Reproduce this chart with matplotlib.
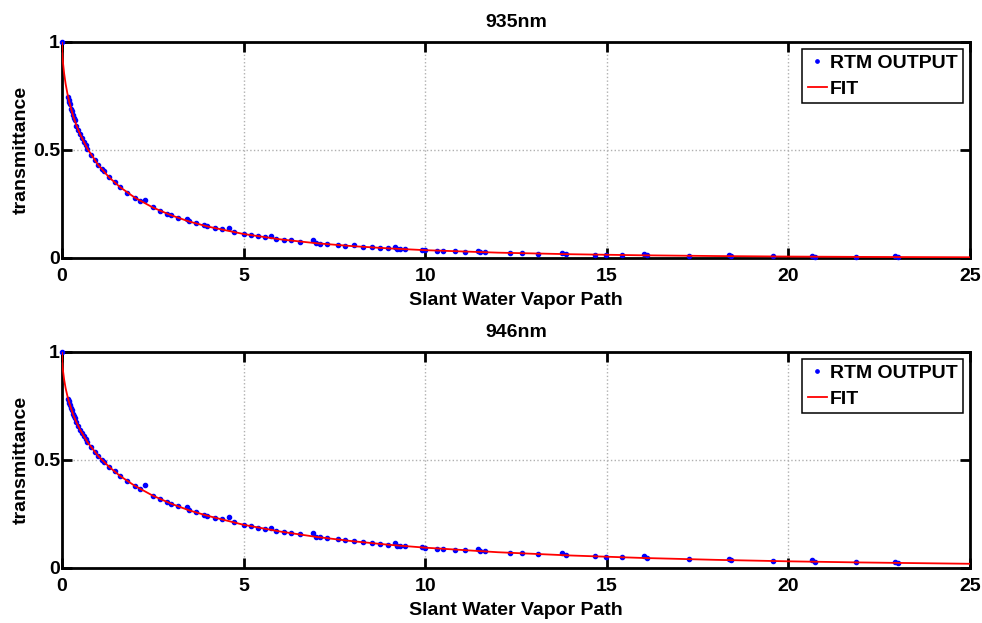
import matplotlib
matplotlib.use('Agg')
import matplotlib.pyplot as plt

# RTM output points (slant water vapor path) - same x for both bands
swvp = [0, 0.17, 0.19, 0.2, 0.22, 0.25, 0.27, 0.3, 0.33, 0.35, 0.4, 0.45, 0.5, 0.55,
        0.6, 0.65, 0.7, 0.8, 0.9, 1.0, 1.1, 1.15, 1.3, 1.45, 1.6, 1.8, 2.0, 2.15, 2.3,
        2.5, 2.7, 2.9, 3.0, 3.2, 3.45, 3.5, 3.7, 3.9, 4.0, 4.2, 4.4, 4.6, 4.75, 5.0,
        5.2, 5.4, 5.6, 5.75, 5.9, 6.1, 6.3, 6.55, 6.9, 7.0, 7.1, 7.3, 7.6, 7.8, 8.05,
        8.3, 8.55, 8.76, 8.97, 9.16, 9.23, 9.30, 9.44, 9.92, 10.0, 10.34, 10.5, 10.81,
        11.1, 11.45, 11.52, 11.66, 12.34, 12.66, 13.11, 13.77, 13.87, 14.68, 14.98,
        15.43, 16.03, 16.12, 17.27, 18.36, 18.41, 19.57, 20.64, 20.73, 21.87, 22.94,
        23.02]

rtm_935 = [1.0, 0.746, 0.731, 0.723, 0.711, 0.692, 0.681, 0.662, 0.647, 0.637, 0.613,
           0.592, 0.572, 0.555, 0.538, 0.522, 0.506, 0.479, 0.454, 0.430, 0.412, 0.401,
           0.373, 0.350, 0.328, 0.303, 0.280, 0.265, 0.268, 0.234, 0.219, 0.205, 0.198,
           0.186, 0.180, 0.169, 0.160, 0.151, 0.146, 0.139, 0.132, 0.137, 0.119, 0.111,
           0.106, 0.101, 0.096, 0.100, 0.089, 0.085, 0.081, 0.076, 0.082, 0.068, 0.067,
           0.064, 0.060, 0.057, 0.058, 0.051, 0.049, 0.047, 0.045, 0.052, 0.042, 0.042,
           0.041, 0.037, 0.036, 0.034, 0.033, 0.031, 0.029, 0.034, 0.027, 0.026, 0.023,
           0.022, 0.020, 0.025, 0.018, 0.016, 0.015, 0.014, 0.019, 0.012, 0.010, 0.014,
           0.0085, 0.0071, 0.011, 0.006, 0.0051, 0.009, 0.0043]

rtm_946 = [1.0, 0.783, 0.771, 0.765, 0.755, 0.740, 0.730, 0.714, 0.702, 0.694, 0.674,
           0.657, 0.640, 0.625, 0.611, 0.597, 0.583, 0.560, 0.538, 0.518, 0.502, 0.493,
           0.468, 0.447, 0.426, 0.403, 0.381, 0.367, 0.384, 0.335, 0.320, 0.305, 0.298,
           0.285, 0.284, 0.267, 0.257, 0.247, 0.242, 0.233, 0.225, 0.237, 0.211, 0.200,
           0.194, 0.187, 0.181, 0.185, 0.173, 0.167, 0.162, 0.156, 0.160, 0.144, 0.142,
           0.138, 0.132, 0.128, 0.127, 0.120, 0.116, 0.112, 0.108, 0.115, 0.104, 0.103,
           0.101, 0.095, 0.094, 0.090, 0.088, 0.085, 0.082, 0.088, 0.078, 0.077, 0.071,
           0.068, 0.064, 0.068, 0.059, 0.054, 0.052, 0.050, 0.054, 0.046, 0.041, 0.043,
           0.036, 0.032, 0.036, 0.029, 0.026, 0.030, 0.023]

# fit curves
fit_x = [0, 0.01, 0.03, 0.06, 0.1, 0.15, 0.2, 0.3, 0.4, 0.5, 0.7, 1, 1.3, 1.6, 2, 2.5,
         3, 3.5, 4, 5, 6, 7, 8, 9, 10, 12, 14, 16, 18, 20, 22, 25]
fit_935 = [1.0, 0.947, 0.901, 0.854, 0.807, 0.761, 0.723, 0.662, 0.613, 0.572, 0.506,
           0.430, 0.373, 0.328, 0.280, 0.234, 0.198, 0.169, 0.146, 0.111, 0.0865,
           0.0683, 0.0548, 0.0444, 0.0362, 0.0247, 0.0174, 0.0124, 0.0090, 0.0066,
           0.0050, 0.0033]
fit_946 = [1.0, 0.950, 0.911, 0.872, 0.833, 0.796, 0.765, 0.714, 0.674, 0.640, 0.583,
           0.518, 0.468, 0.426, 0.381, 0.335, 0.298, 0.267, 0.242, 0.200, 0.169, 0.144,
           0.124, 0.1075, 0.0941, 0.0730, 0.0579, 0.0464, 0.0377, 0.0309, 0.0256,
           0.0195]

panels = [('935nm', rtm_935, fit_935), ('946nm', rtm_946, fit_946)]

plt.rcParams['font.family'] = ['Liberation Sans', 'DejaVu Sans']
plt.rcParams['font.weight'] = 'bold'
plt.rcParams['font.size'] = 14

fig = plt.figure(figsize=(9.82, 6.23), dpi=100)
boxes = [[0.0631, 0.5859, 0.9246, 0.3467], [0.0631, 0.0883, 0.9246, 0.3467]]

for box, (titel, rtm, fit) in zip(boxes, panels):
    ax = fig.add_axes(box)
    ax.plot(swvp, rtm, '.', color='blue', markersize=6, label='RTM OUTPUT',
            clip_on=False, zorder=3)
    ax.plot(fit_x, fit, '-', color='red', linewidth=1.3, label='FIT', zorder=4)
    ax.set_xlim(0, 25)
    ax.set_ylim(0, 1)
    ax.set_xticks([0, 5, 10, 15, 20, 25])
    ax.set_yticks([0, 0.5, 1])
    ax.set_yticklabels(['0', '0.5', '1'])
    ax.grid(True, color='#b0b0b0', linestyle=':', linewidth=1)
    ax.tick_params(direction='in', length=7, width=2, top=True, right=True)
    ax.tick_params(axis='x', pad=7)
    ax.tick_params(axis='y', pad=1.5)
    for s in ax.spines.values():
        s.set_linewidth(2)
    for lab in ax.get_xticklabels() + ax.get_yticklabels():
        lab.set_fontweight('bold')
    ax.set_title(titel, fontsize=14, fontweight='bold', pad=11)
    ax.set_xlabel('Slant Water Vapor Path', fontweight='bold', labelpad=5)
    ax.set_ylabel('transmittance', fontweight='bold', labelpad=2)
    leg = ax.legend(loc='upper right', fancybox=False, framealpha=1,
                    edgecolor='black', handlelength=0.95, handletextpad=0.15,
                    borderpad=0.3, labelspacing=0.4, borderaxespad=0.35,
                    markerscale=0.8)
    leg.get_frame().set_linewidth(1.1)
    for t in leg.get_texts():
        t.set_fontweight('bold')

fig.savefig('out.png', dpi=100)
